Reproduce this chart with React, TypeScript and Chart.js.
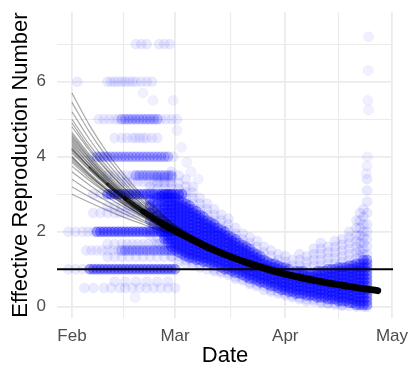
import React, { useEffect, useRef } from 'react';
import { Chart, registerables } from 'chart.js';
Chart.register(...registerables);

// ---- axes (x = days since 1 Feb) ----
const xTickDays = [0, 14.5, 29, 44.5, 60, 75, 90];
const xTickLabels = ['Feb', '', 'Mar', '', 'Apr', '', 'May'];
const yTickValues = [0, 1, 2, 3, 4, 5, 6, 7];
const yTickLabels = ['0', '', '2', '', '4', '', '6', ''];
const X_MIN = -4.2;
const X_MAX = 90.3;
const Y_MIN = -0.3;
const Y_MAX = 7.86;
const thresholdValue = 1;

// ---- fitted curves (bootstrap fan) ----
const fanDays = [0, 5, 10, 15, 20, 25, 30, 40, 50, 60, 70, 80, 86];
const fanCurves: number[][] = [
  [5.7, 4.83, 4.1, 3.48, 2.95, 2.5, 2.12, 1.6, 1.21, 0.92, 0.7, 0.53, 0.45],
  [5.45, 4.65, 3.97, 3.38, 2.89, 2.46, 2.1, 1.59, 1.21, 0.92, 0.7, 0.53, 0.45],
  [5.2, 4.46, 3.83, 3.28, 2.82, 2.42, 2.08, 1.58, 1.2, 0.91, 0.69, 0.53, 0.45],
  [5.0, 4.31, 3.72, 3.21, 2.77, 2.39, 2.06, 1.57, 1.2, 0.91, 0.69, 0.53, 0.45],
  [4.8, 4.16, 3.61, 3.13, 2.71, 2.35, 2.04, 1.55, 1.19, 0.9, 0.69, 0.52, 0.44],
  [4.65, 4.05, 3.53, 3.07, 2.67, 2.33, 2.03, 1.55, 1.18, 0.9, 0.68, 0.52, 0.44],
  [4.5, 3.93, 3.44, 3.01, 2.63, 2.3, 2.01, 1.53, 1.17, 0.89, 0.68, 0.51, 0.44],
  [4.4, 3.86, 3.38, 2.97, 2.6, 2.28, 2.0, 1.52, 1.16, 0.88, 0.67, 0.51, 0.44],
  [4.3, 3.78, 3.33, 2.92, 2.57, 2.26, 1.99, 1.52, 1.16, 0.88, 0.67, 0.51, 0.43],
  [4.2, 3.71, 3.27, 2.88, 2.54, 2.24, 1.98, 1.51, 1.15, 0.87, 0.67, 0.51, 0.43],
  [4.1, 3.63, 3.21, 2.84, 2.52, 2.23, 1.97, 1.5, 1.15, 0.87, 0.66, 0.5, 0.43],
  [4.0, 3.55, 3.15, 2.8, 2.49, 2.21, 1.96, 1.49, 1.14, 0.86, 0.66, 0.5, 0.43],
  [3.9, 3.47, 3.1, 2.76, 2.46, 2.19, 1.95, 1.49, 1.13, 0.86, 0.66, 0.5, 0.43],
  [3.75, 3.36, 3.02, 2.7, 2.42, 2.17, 1.95, 1.48, 1.13, 0.86, 0.65, 0.5, 0.42],
  [3.6, 3.24, 2.92, 2.64, 2.38, 2.14, 1.93, 1.47, 1.12, 0.85, 0.65, 0.49, 0.42],
  [3.4, 3.09, 2.81, 2.55, 2.31, 2.1, 1.91, 1.46, 1.11, 0.84, 0.64, 0.49, 0.42],
  [3.2, 2.93, 2.69, 2.47, 2.26, 2.07, 1.9, 1.45, 1.1, 0.84, 0.64, 0.49, 0.41],
  [3.0, 2.78, 2.57, 2.37, 2.2, 2.03, 1.88, 1.43, 1.09, 0.83, 0.63, 0.48, 0.41],
  [4.35, 3.8, 3.32, 2.9, 2.54, 2.22, 1.95, 1.54, 1.2, 0.93, 0.72, 0.56, 0.48],
  [4.55, 3.95, 3.43, 2.98, 2.59, 2.26, 1.97, 1.47, 1.1, 0.82, 0.61, 0.46, 0.39],
  [4.0, 3.52, 3.1, 2.73, 2.41, 2.14, 1.9, 1.5, 1.18, 0.92, 0.71, 0.55, 0.47],
  [4.9, 4.22, 3.64, 3.14, 2.71, 2.34, 2.02, 1.5, 1.12, 0.84, 0.63, 0.47, 0.4],
  [4.25, 3.72, 3.26, 2.86, 2.51, 2.2, 1.94, 1.49, 1.15, 0.89, 0.69, 0.53, 0.46],
  [4.45, 3.88, 3.38, 2.95, 2.58, 2.26, 1.98, 1.52, 1.15, 0.86, 0.64, 0.48, 0.41],
  [3.85, 3.42, 3.04, 2.71, 2.42, 2.16, 1.93, 1.48, 1.14, 0.88, 0.68, 0.52, 0.45],
  [4.15, 3.66, 3.23, 2.85, 2.52, 2.23, 1.98, 1.53, 1.17, 0.88, 0.66, 0.5, 0.42],
  [3.95, 3.5, 3.11, 2.77, 2.47, 2.2, 1.96, 1.51, 1.16, 0.89, 0.68, 0.52, 0.44],
  [4.6, 4.0, 3.48, 3.03, 2.64, 2.3, 2.0, 1.51, 1.14, 0.86, 0.65, 0.49, 0.42],
];
const meanCurve = [4.2, 3.71, 3.27, 2.88, 2.54, 2.24, 1.98, 1.51, 1.15, 0.87, 0.67, 0.51, 0.43];

// ---- discrete early estimates (horizontal bands) ----
const bandLevels = [7, 6, 5, 4.5, 4, 3.5, 3.33, 3, 2.67, 2.5, 2, 1.67, 1.5, 1.33, 1, 0.67, 0.5];
const bandDaysDark: number[][] = [
  [], [], [], [], [], [], [],
  [10, 11, 12, 13, 14, 15, 16, 17, 18, 19, 20, 21, 22, 23, 24, 25, 26, 27, 28, 29, 30, 31],
  [], [],
  [7, 8, 9, 10, 11, 12, 13, 14, 15, 16, 17, 18, 19, 20, 21, 22, 23, 24, 25, 26, 27, 28],
  [], [], [],
  [5, 6, 7, 8, 9, 10, 11, 12, 13, 14, 15, 16, 17, 18, 19, 20, 21, 22, 23, 24, 25, 26, 27, 28, 29],
  [], [],
];
const bandDaysMedium: number[][] = [
  [], [],
  [14, 15, 16, 17, 18, 19, 20, 21, 22, 23, 24],
  [],
  [7, 8, 9, 10, 11, 12, 13, 14, 15, 16, 17, 18, 19, 20, 21, 22, 23, 24, 25, 26, 27],
  [18, 19, 20, 21, 22, 23, 24, 25, 26, 27, 28],
  [], [], [], [], [], [],
  [14, 15, 16, 17, 18, 19, 20, 21, 22, 23, 24, 25, 26, 27, 28],
  [], [], [], [],
];
const bandDaysLight: number[][] = [
  [18, 19.5, 21, 24.5, 26, 27.5],
  [1.5, 10, 11, 12, 13, 14, 15, 16, 17, 18, 19.5, 21, 22.5],
  [7.5, 9, 10.5, 12, 13, 25, 26.5, 28, 29.5],
  [12, 14, 15.5, 17, 18, 19, 20, 21, 22.5, 24],
  [5.5, 28.5],
  [10, 12, 14, 15.5, 17],
  [14, 15.5, 17, 18.5, 20, 21.5, 23, 24.5, 26, 27.5],
  [6, 8],
  [10, 12, 14, 16, 18, 20, 22, 24, 26, 28],
  [6, 8, 10, 12, 13.5, 15, 16.5, 18, 19.5, 21, 22.5, 24, 25.5, 27, 28.5],
  [-1, 1, 3, 4.5, 6],
  [10, 12, 14, 15.5, 17, 18.5, 20, 21.5, 23, 24.5, 26, 27.5],
  [4, 5.5, 7, 8.5, 10, 11.5, 13],
  [10, 12, 14, 16, 18, 20, 22, 24, 26, 28],
  [-1, 1, 3],
  [12, 15, 18, 21, 24, 27],
  [3.5, 6, 9, 11, 13.5, 15, 17, 19, 21, 23, 25, 27, 29],
];

// ---- continuous estimates cloud ----
const cloudDays = [22, 23, 24, 25, 26, 27, 28, 29, 30, 31, 32, 33, 34, 35, 36, 37, 38, 39, 40, 41, 42, 43, 44, 45, 46, 47, 48, 49, 50, 51, 52, 53, 54, 55, 56, 57, 58, 59, 60, 61, 62, 63, 64, 65, 66, 67, 68, 69, 70, 71, 72, 73, 74, 75, 76, 77, 78, 79, 80, 81, 82, 83];
const cloudCore: number[][] = [
  [2.3, 2.5, 2.7, 2.85],
  [2.2, 2.4, 2.6, 2.8],
  [2.1, 2.3, 2.45, 2.6, 2.75, 2.9],
  [2.0, 2.2, 2.35, 2.5, 2.65, 2.8, 2.95],
  [1.8, 1.9, 2, 2.1, 2.2, 2.3, 2.4, 2.5, 2.6, 2.7, 2.8, 2.9, 3],
  [1.7, 1.8, 1.9, 2, 2.1, 2.2, 2.3, 2.4, 2.5, 2.6, 2.7, 2.8, 2.9, 3],
  [1.6, 1.7, 1.8, 1.9, 2, 2.1, 2.2, 2.3, 2.4, 2.5, 2.6, 2.7, 2.8, 2.9, 3],
  [1.5, 1.6, 1.7, 1.8, 1.9, 2, 2.1, 2.2, 2.3, 2.4, 2.5, 2.6, 2.7, 2.8, 2.9],
  [1.45, 1.55, 1.65, 1.75, 1.85, 1.95, 2.05, 2.15, 2.25, 2.35, 2.45, 2.55, 2.65, 2.75, 2.85],
  [1.4, 1.5, 1.6, 1.7, 1.8, 1.9, 2, 2.1, 2.2, 2.3, 2.4, 2.5, 2.6, 2.7, 2.8],
  [1.35, 1.45, 1.55, 1.65, 1.75, 1.85, 1.95, 2.05, 2.15, 2.25, 2.35, 2.45, 2.55, 2.65, 2.75],
  [1.3, 1.4, 1.5, 1.6, 1.7, 1.8, 1.9, 2, 2.1, 2.2, 2.3, 2.4, 2.5, 2.6, 2.7],
  [1.3, 1.4, 1.5, 1.6, 1.7, 1.8, 1.9, 2, 2.1, 2.2, 2.3, 2.4, 2.5, 2.6],
  [1.25, 1.35, 1.45, 1.55, 1.65, 1.75, 1.85, 1.95, 2.05, 2.15, 2.25, 2.35, 2.45, 2.55],
  [1.25, 1.35, 1.45, 1.55, 1.65, 1.75, 1.85, 1.95, 2.05, 2.15, 2.25, 2.35, 2.45],
  [1.2, 1.3, 1.4, 1.5, 1.6, 1.7, 1.8, 1.9, 2, 2.1, 2.2, 2.3, 2.4],
  [1.2, 1.3, 1.4, 1.5, 1.6, 1.7, 1.8, 1.9, 2, 2.1, 2.2, 2.3],
  [1.15, 1.25, 1.35, 1.45, 1.55, 1.65, 1.75, 1.85, 1.95, 2.05, 2.15, 2.25],
  [1.1, 1.2, 1.3, 1.4, 1.5, 1.6, 1.7, 1.8, 1.9, 2, 2.1, 2.2],
  [1.1, 1.2, 1.3, 1.4, 1.5, 1.6, 1.7, 1.8, 1.9, 2, 2.1],
  [1.05, 1.15, 1.25, 1.35, 1.45, 1.55, 1.65, 1.75, 1.85, 1.95, 2.05],
  [1, 1.1, 1.2, 1.3, 1.4, 1.5, 1.6, 1.7, 1.8, 1.9, 2],
  [1, 1.1, 1.2, 1.3, 1.4, 1.5, 1.6, 1.7, 1.8, 1.9],
  [0.95, 1.05, 1.15, 1.25, 1.35, 1.45, 1.55, 1.65, 1.75, 1.85],
  [0.9, 1, 1.1, 1.2, 1.3, 1.4, 1.5, 1.6, 1.7, 1.8],
  [0.9, 1, 1.1, 1.2, 1.3, 1.4, 1.5, 1.6, 1.7],
  [0.85, 0.95, 1.05, 1.15, 1.25, 1.35, 1.45, 1.55, 1.65],
  [0.8, 0.9, 1, 1.1, 1.2, 1.3, 1.4, 1.5, 1.6],
  [0.75, 0.85, 0.95, 1.05, 1.15, 1.25, 1.35, 1.45, 1.55],
  [0.75, 0.85, 0.95, 1.05, 1.15, 1.25, 1.35, 1.45],
  [0.7, 0.8, 0.9, 1, 1.1, 1.2, 1.3, 1.4],
  [0.65, 0.75, 0.85, 0.95, 1.05, 1.15, 1.25, 1.35],
  [0.65, 0.75, 0.85, 0.95, 1.05, 1.15, 1.25],
  [0.6, 0.7, 0.8, 0.9, 1, 1.1, 1.2],
  [0.55, 0.65, 0.75, 0.85, 0.95, 1.05, 1.15],
  [0.55, 0.65, 0.75, 0.85, 0.95, 1.05, 1.15],
  [0.5, 0.6, 0.7, 0.8, 0.9, 1, 1.1],
  [0.45, 0.55, 0.65, 0.75, 0.85, 0.95, 1.05],
  [0.45, 0.55, 0.65, 0.75, 0.85, 0.95, 1.05],
  [0.4, 0.5, 0.6, 0.7, 0.8, 0.9, 1],
  [0.4, 0.5, 0.6, 0.7, 0.8, 0.9],
  [0.35, 0.45, 0.55, 0.65, 0.75, 0.85, 0.95],
  [0.35, 0.45, 0.55, 0.65, 0.75, 0.85, 0.95],
  [0.35, 0.45, 0.55, 0.65, 0.75, 0.85, 0.95],
  [0.3, 0.4, 0.5, 0.6, 0.7, 0.8, 0.9],
  [0.3, 0.4, 0.5, 0.6, 0.7, 0.8, 0.9],
  [0.3, 0.4, 0.5, 0.6, 0.7, 0.8, 0.9],
  [0.25, 0.35, 0.45, 0.55, 0.65, 0.75, 0.85, 0.95],
  [0.25, 0.35, 0.45, 0.55, 0.65, 0.75, 0.85, 0.95],
  [0.25, 0.35, 0.45, 0.55, 0.65, 0.75, 0.85, 0.95],
  [0.2, 0.3, 0.4, 0.5, 0.6, 0.7, 0.8, 0.9, 1],
  [0.2, 0.3, 0.4, 0.5, 0.6, 0.7, 0.8, 0.9, 1],
  [0.2, 0.3, 0.4, 0.5, 0.6, 0.7, 0.8, 0.9, 1],
  [0.15, 0.25, 0.35, 0.45, 0.55, 0.65, 0.75, 0.85, 0.95, 1.05],
  [0.15, 0.25, 0.35, 0.45, 0.55, 0.65, 0.75, 0.85, 0.95, 1.05],
  [0.15, 0.25, 0.35, 0.45, 0.55, 0.65, 0.75, 0.85, 0.95, 1.05],
  [0.1, 0.2, 0.3, 0.4, 0.5, 0.6, 0.7, 0.8, 0.9, 1, 1.1],
  [0.1, 0.2, 0.3, 0.4, 0.5, 0.6, 0.7, 0.8, 0.9, 1, 1.1],
  [0.05, 0.15, 0.25, 0.35, 0.45, 0.55, 0.65, 0.75, 0.85, 0.95, 1.05, 1.15],
  [0.05, 0.15, 0.25, 0.35, 0.45, 0.55, 0.65, 0.75, 0.85, 0.95, 1.05, 1.15],
  [0.05, 0.15, 0.25, 0.35, 0.45, 0.55, 0.65, 0.75, 0.85, 0.95, 1.05, 1.15, 1.25],
  [0.05, 0.15, 0.25, 0.35, 0.45, 0.55, 0.65, 0.75, 0.85, 0.95, 1.05, 1.15, 1.25],
];
const fringeDays = [22, 24, 26, 28, 30, 32, 34, 36, 38, 40, 42, 44, 46, 48, 50, 52, 54, 56, 58, 60, 62, 64, 66, 68, 70, 72, 74, 76, 78, 80, 81, 82, 83];
const fringeVals: number[][] = [
  [1.9, 2.05, 3.05, 3.2],
  [1.7, 1.85, 3.15, 3.3, 3.45],
  [1.5, 1.65, 3.15, 3.3, 3.45],
  [1.35, 1.5, 3.15, 3.3, 3.45, 3.6],
  [1.2, 1.35, 3.0, 3.15, 3.3, 3.5],
  [1.15, 1.25, 2.9, 3.05, 3.2, 3.4],
  [1.1, 1.2, 2.75, 2.9, 3.05, 3.2],
  [1.05, 1.15, 2.6, 2.75, 2.9],
  [1.0, 1.1, 2.45, 2.6, 2.75],
  [0.95, 1.0, 2.3, 2.45, 2.6],
  [0.9, 0.95, 2.15, 2.3, 2.45],
  [0.85, 0.9, 2.05, 2.2, 2.35],
  [0.75, 0.8, 1.95, 2.1],
  [0.7, 0.75, 1.8, 1.95],
  [0.6, 0.65, 1.7, 1.85],
  [0.55, 0.6, 1.6, 1.75],
  [0.45, 0.55, 1.45, 1.6],
  [0.4, 0.45, 1.35, 1.5],
  [0.35, 0.4, 1.25, 1.4],
  [0.3, 0.35, 1.2, 1.35],
  [0.25, 0.3, 1.1, 1.25],
  [0.2, 0.25, 1.1, 1.25, 1.4],
  [0.15, 0.2, 1.05, 1.2, 1.35],
  [0.15, 0.2, 1.1, 1.25, 1.4, 1.55],
  [0.1, 0.15, 1.1, 1.25, 1.4, 1.55, 1.7],
  [0.08, 0.1, 1.15, 1.3, 1.45, 1.6],
  [0.05, 0.1, 1.15, 1.3, 1.45, 1.6, 1.75],
  [0.03, 0.05, 1.2, 1.35, 1.5, 1.65, 1.8],
  [0.02, 1.25, 1.4, 1.55, 1.7, 1.85, 2.0],
  [0.0, 1.3, 1.45, 1.6, 1.75, 1.9, 2.1, 2.3],
  [1.35, 1.5, 1.7, 1.9, 2.1, 2.3, 2.5],
  [0.0, 1.4, 1.55, 1.7, 1.85, 2.0, 2.2, 2.4, 2.6],
  [0.0, 1.4, 1.6, 1.8, 2.0, 2.2, 2.5, 2.8, 3.1, 3.4],
];
const outlierDays = [83.4, 83.3, 83.2, 83.4, 83.1, 83.0, 82.8, 30.8, 32.3, 33.5, 29.5, 28.5, 20.0, 22.8, 17.8, 35.5];
const outlierVals = [7.2, 6.3, 5.5, 5.25, 4.0, 3.75, 3.55, 4.25, 3.85, 3.6, 4.7, 5.5, 5.7, 5.5, 0.25, 3.4];

const FONT = "'Liberation Sans', Arial, sans-serif";

function bandPoints(daysPerLevel: number[][]) {
  const out: { x: number; y: number }[] = [];
  daysPerLevel.forEach((days, i) => days.forEach((d) => out.push({ x: d, y: bandLevels[i] })));
  return out;
}
function columnPoints(days: number[], vals: number[][]) {
  const out: { x: number; y: number }[] = [];
  days.forEach((d, i) => vals[i].forEach((v) => out.push({ x: d, y: v })));
  return out;
}
function scatterSet(data: any[], fillA: number, lineA: number) {
  return {
    type: 'scatter' as const,
    data,
    pointRadius: 5,
    pointBorderWidth: 0.5,
    backgroundColor: `rgba(0,0,255,${fillA})`,
    borderColor: `rgba(0,0,255,${lineA})`,
    order: 10,
  };
}

export default function App() {
  const ref = useRef<HTMLCanvasElement | null>(null);
  useEffect(() => {
    if (!ref.current) return;
    const datasets: any[] = [];
    datasets.push(scatterSet(bandPoints(bandDaysLight), 0.08, 0.09));
    datasets.push(scatterSet(columnPoints(fringeDays, fringeVals), 0.09, 0.09));
    datasets.push(scatterSet(outlierDays.map((d, i) => ({ x: d, y: outlierVals[i] })), 0.06, 0.08));
    datasets.push(scatterSet(bandPoints(bandDaysMedium), 0.22, 0.22));
    datasets.push(scatterSet(bandPoints(bandDaysDark), 0.36, 0.36));
    datasets.push(scatterSet(columnPoints(cloudDays, cloudCore), 0.3, 0.3));
    fanCurves.forEach((c) => {
      datasets.push({
        type: 'line',
        data: fanDays.map((d, i) => ({ x: d, y: c[i] })),
        borderColor: 'rgba(0,0,0,0.34)',
        borderWidth: 1.2,
        pointRadius: 0,
        cubicInterpolationMode: 'monotone',
        fill: false,
        order: 5,
      });
    });
    datasets.push({
      type: 'line',
      data: fanDays.map((d, i) => ({ x: d, y: meanCurve[i] })),
      borderColor: '#000',
      borderWidth: 7,
      borderCapStyle: 'round',
      pointRadius: 0,
      cubicInterpolationMode: 'monotone',
      fill: false,
      order: 4,
      segment: {
        borderWidth: (ctx: any) => 1.5 + 5.5 * Math.min(1, ctx.p0.parsed.x / 25),
        borderColor: (ctx: any) => `rgba(0,0,0,${0.35 + 0.65 * Math.min(1, ctx.p0.parsed.x / 25)})`,
      },
    });
    datasets.push({
      type: 'line',
      data: [{ x: X_MIN, y: thresholdValue }, { x: X_MAX, y: thresholdValue }],
      borderColor: '#000',
      borderWidth: 1.8,
      pointRadius: 0,
      fill: false,
      order: 1,
    });

    const gridColor = '#ebebeb';
    const chart = new Chart(ref.current, {
      type: 'scatter',
      data: { datasets },
      options: {
        animation: false,
        responsive: true,
        maintainAspectRatio: false,
        events: [],
        layout: { padding: { left: 0, right: 21, top: 12, bottom: 0 } },
        plugins: { legend: { display: false }, tooltip: { enabled: false } },
        scales: {
          x: {
            type: 'linear',
            min: X_MIN,
            max: X_MAX,
            afterBuildTicks: (scale: any) => {
              scale.ticks = xTickDays.map((v) => ({ value: v }));
            },
            afterFit: (scale: any) => {
              scale.height = 52;
              scale.paddingLeft = 0;
              scale.paddingRight = 0;
            },
            ticks: {
              autoSkip: false,
              maxRotation: 0,
              padding: 8,
              color: '#4d4d4d',
              font: { family: FONT, size: 17 },
              callback: (_v: any, i: number) => xTickLabels[i],
            },
            grid: {
              drawTicks: false,
              color: gridColor,
              lineWidth: (ctx: any) => (ctx.index % 2 === 0 ? 1.8 : 1.1),
            },
            border: { display: false },
            title: {
              display: true,
              text: 'Date',
              color: '#000',
              font: { family: FONT, size: 22 },
              padding: { top: 0, bottom: 1 },
            },
          },
          y: {
            type: 'linear',
            min: Y_MIN,
            max: Y_MAX,
            afterBuildTicks: (scale: any) => {
              scale.ticks = yTickValues.map((v) => ({ value: v }));
            },
            afterFit: (scale: any) => {
              scale.width = 57;
              scale.paddingTop = 0;
              scale.paddingBottom = 0;
            },
            ticks: {
              autoSkip: false,
              padding: 11,
              color: '#4d4d4d',
              font: { family: FONT, size: 17 },
              callback: (_v: any, i: number) => yTickLabels[i],
            },
            grid: {
              drawTicks: false,
              color: gridColor,
              lineWidth: (ctx: any) => (ctx.index % 2 === 0 ? 1.8 : 1.1),
            },
            border: { display: false },
            title: {
              display: true,
              text: 'Effective Reproduction Number',
              color: '#000',
              font: { family: FONT, size: 22 },
              padding: { top: 8, bottom: 0 },
            },
          },
        },
      } as any,
    });
    return () => chart.destroy();
  }, []);

  return (
    <div style={{ position: 'absolute', left: 0, top: 0, width: 414, height: 370, background: '#fff' }}>
      <canvas ref={ref} />
    </div>
  );
}
